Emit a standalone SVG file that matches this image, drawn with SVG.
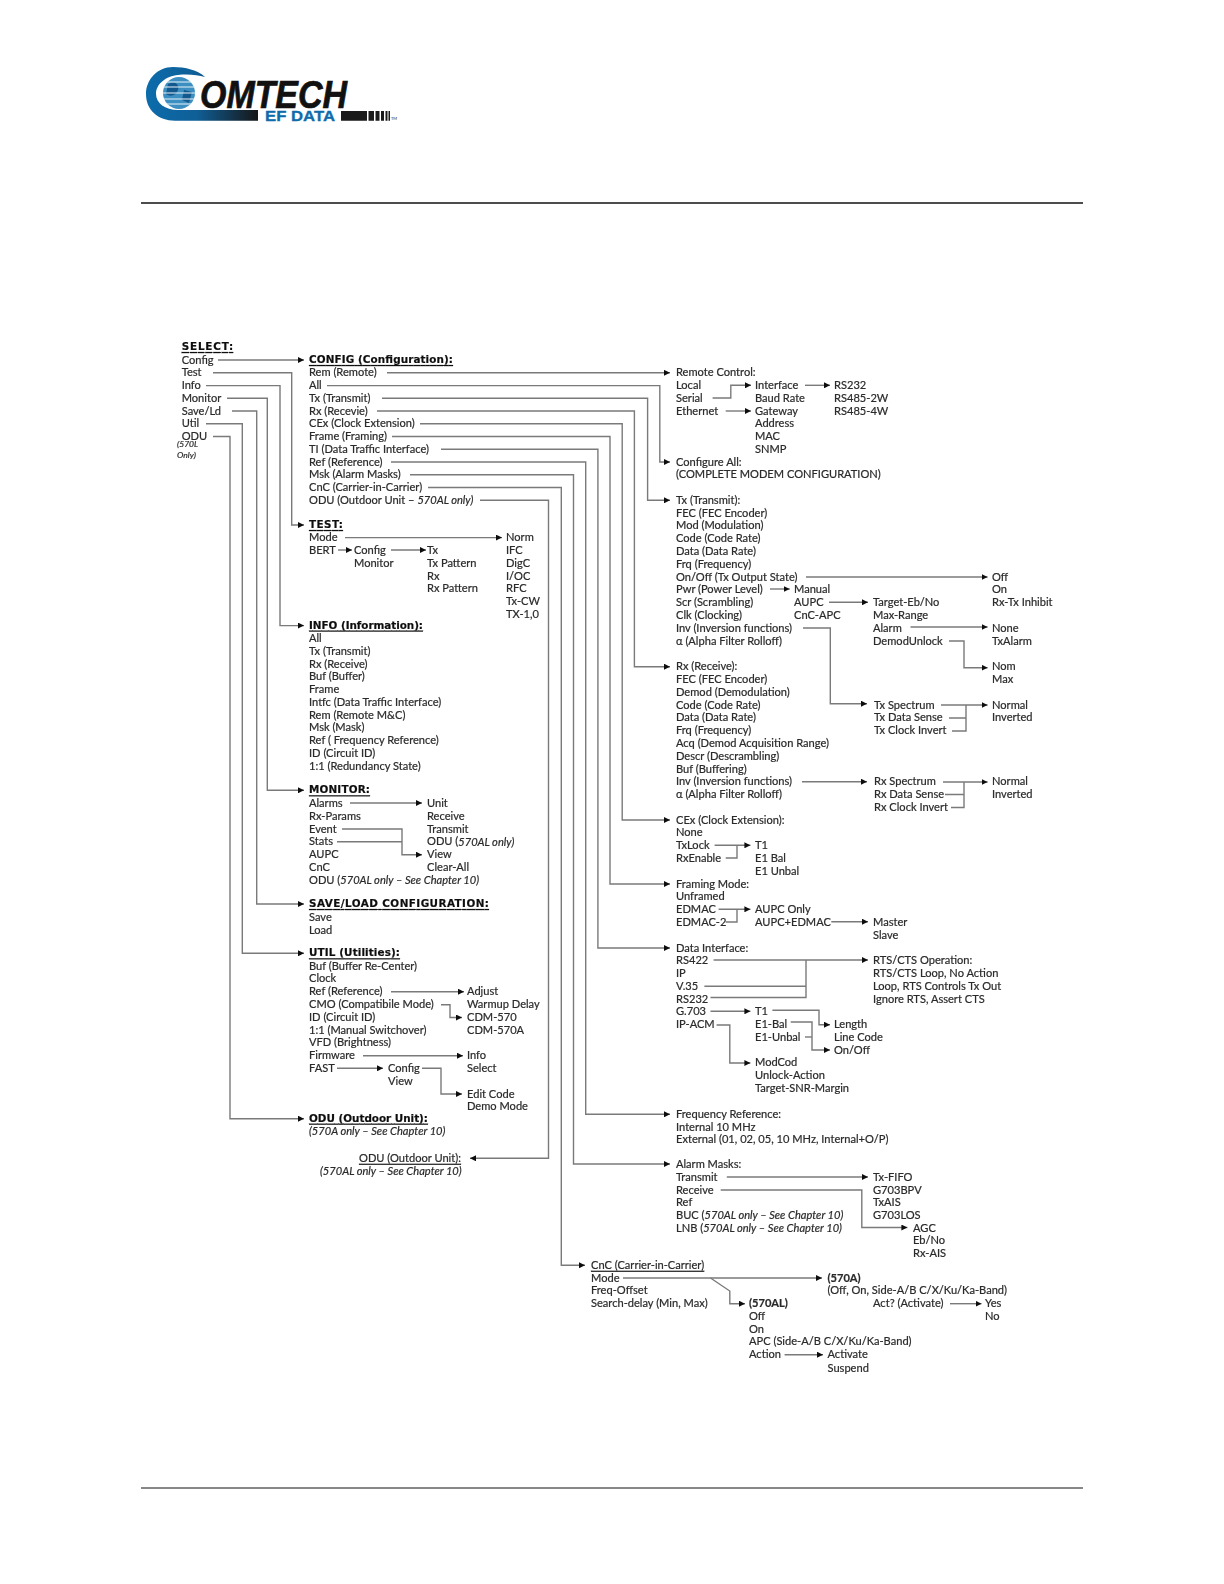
<svg xmlns="http://www.w3.org/2000/svg" width="1224" height="1584" viewBox="0 0 1224 1584">
<defs>
<style>
text{font-family:"Lato","Liberation Sans",sans-serif;font-size:11.1px;fill:#2a2a2a;stroke:#2a2a2a;stroke-width:.2;dominant-baseline:central}
.h{font-family:"DejaVu Sans",sans-serif;font-weight:700;font-size:10.4px;text-decoration:underline;fill:#111;stroke:#111}
.b{font-weight:700}
.i{font-style:italic}
.u{text-decoration:underline}
.c{fill:none;stroke:#7a7a7a;stroke-width:1.4}
.a{marker-end:url(#ah)}
</style>
<marker id="ah" markerUnits="userSpaceOnUse" markerWidth="7" markerHeight="6" refX="6" refY="3" orient="auto"><path d="M0 0L6 3L0 6Z" fill="#111"/></marker>
<filter id="soft" x="0" y="0" width="100%" height="100%"><feGaussianBlur stdDeviation="0.6"/></filter>
<linearGradient id="swoosh" gradientUnits="userSpaceOnUse" x1="146" y1="0" x2="258" y2="0"><stop offset="0" stop-color="#0c6cab"/><stop offset="0.45" stop-color="#0f5f97"/><stop offset="1" stop-color="#161616"/></linearGradient>
</defs>
<rect width="1224" height="1584" fill="#fff"/>
<g id="logo">
<path d="M205 77C198 70 185 67 173 67C157 67 146 80 146 94C146 110 158 120.7 175 120.7L258 120.7L258 110L178 110C165 110 156 103 156 94C156 84 166 76 178 75C188 74 198 75 205 77Z" fill="url(#swoosh)"/>
<circle cx="179" cy="93" r="16" fill="#3d8fc2"/>
<path d="M168 84C174 80 180 84 178 90C176 96 170 97 166 94ZM184 90L192 92L189 103L182 100Z" fill="#14598d"/>
<path d="M163 87H195M163 93H195M164 99H194M167 104H191M167 82H191" stroke="#e8f2f8" stroke-width="1"/>
<text x="200" y="94.5" textLength="147" lengthAdjust="spacingAndGlyphs" style="font-family:'Liberation Sans',sans-serif;font-size:38px;font-weight:700;font-style:italic;fill:#111;stroke:#111;stroke-width:.7">OMTECH</text>
<text x="265" y="115.5" textLength="70" lengthAdjust="spacingAndGlyphs" style="font-family:'Liberation Sans',sans-serif;font-size:14.5px;font-weight:700;fill:#0f6cab;stroke:#0f6cab;stroke-width:.3">EF DATA</text>
<path d="M341 111H367V120.7H341ZM368.5 111H374V120.7H368.5ZM375.5 111H379.5V120.7H375.5ZM381 111H384V120.7H381ZM385.5 111H387.5V120.7H385.5ZM388.5 111H390V120.7H388.5Z" fill="#1a1a1a"/>
<text x="391" y="118.5" style="font-size:4px;stroke:none">TM</text>
</g>
<g id="rules" stroke="#111">
<line x1="141" y1="203" x2="1083" y2="203" stroke-width="1.6"/>
<line x1="141" y1="1488" x2="1083" y2="1488" stroke-width="1"/>
</g>
<g filter="url(#soft)">
<g id="connectors">
<path class="c a" d="M218 360H304"/>
<path class="c a" d="M213 372.8H291.7V525H304"/>
<path class="c a" d="M206 385.6H280V625.6H304"/>
<path class="c a" d="M227 398.3H267.3V790.3H304"/>
<path class="c a" d="M232 411H256.7V904H304"/>
<path class="c a" d="M206 423.8H242.3V953.3H304"/>
<path class="c a" d="M213 436.5H230V1118.7H304"/>
<path class="c a" d="M387 372.8H670"/>
<path class="c a" d="M327 385.6H659.8V462H670"/>
<path class="c a" d="M382 398.3H647.6V500.3H670"/>
<path class="c a" d="M377 411H634.4V666.7H670"/>
<path class="c a" d="M420 423.8H622.2V820H670"/>
<path class="c a" d="M392 436.5H610V884H670"/>
<path class="c a" d="M441 449.3H597.9V948H670"/>
<path class="c a" d="M391 462H585.7V1114.3H670"/>
<path class="c a" d="M410 474.8H573.5V1164H670"/>
<path class="c a" d="M428 487.5H561.3V1265.3H585"/>
<path class="c a" d="M480 500.3H548.5V1158.3H470"/>
<path class="c a" d="M345 537.6H502"/>
<path class="c a" d="M338 550H352"/>
<path class="c a" d="M391 550H426"/>
<path class="c a" d="M350 803H422"/>
<path class="c a" d="M342 829H402V854.7H422"/>
<path class="c" d="M337 841.7H402"/>
<path class="c a" d="M391 991.7H464"/>
<path class="c a" d="M441 1004.7H450V1017.5H462"/>
<path class="c a" d="M363 1055.7H463"/>
<path class="c a" d="M337 1068.3H383"/>
<path class="c a" d="M422 1068.3H441V1094H462"/>
<path class="c a" d="M712.6 398H730.8V385.3H751"/>
<path class="c a" d="M725.7 411H751"/>
<path class="c a" d="M805 385.3H830"/>
<path class="c a" d="M806 577H987.6"/>
<path class="c a" d="M770 589H789.7"/>
<path class="c a" d="M829 602.3H868"/>
<path class="c a" d="M910.5 627H987.6"/>
<path class="c a" d="M949 641H964V667.7H987.6"/>
<path class="c a" d="M803 628H830.3V703.7H867"/>
<path class="c a" d="M941 705H987.6"/>
<path class="c" d="M949 718H966M952 731H966V705"/>
<path class="c a" d="M802 781.7H867"/>
<path class="c a" d="M943 782H987.6"/>
<path class="c" d="M945 794.5H964M951 807.5H964V782"/>
<path class="c a" d="M714.6 845.3H750.4"/>
<path class="c" d="M725.7 858H737V845.3"/>
<path class="c a" d="M718.6 909.3H750.4"/>
<path class="c" d="M725.7 922H737V909.3"/>
<path class="c a" d="M831.3 921.7H868"/>
<path class="c a" d="M713.6 960H868"/>
<path class="c" d="M704.4 986.3H806M710.5 997.5H806V960"/>
<path class="c a" d="M710.5 1011.3H750.4"/>
<path class="c a" d="M772.4 1010.3H819V1024.7H830"/>
<path class="c a" d="M790.7 1022H812V1050H830"/>
<path class="c" d="M805 1037H812"/>
<path class="c a" d="M716.6 1025H729.8V1063H750.4"/>
<path class="c a" d="M726.8 1177H868"/>
<path class="c a" d="M720.7 1190H861.8V1227.5H907.4"/>
<path class="c a" d="M623 1278H822"/>
<path class="c a" d="M710.5 1278L729.8 1291V1303.7H745"/>
<path class="c a" d="M950 1303.7H981.5"/>
<path class="c a" d="M784.6 1354.7H823"/>
</g>
<g transform="translate(0,-1)">
<g id="select">
<text class="h" x="181.7" y="347" textLength="51.5">SELECT:</text>
<text x="181.7" y="360">Config</text><text x="181.7" y="372.8">Test</text><text x="181.7" y="385.6">Info</text><text x="181.7" y="398.3">Monitor</text><text x="181.7" y="411">Save/Ld</text><text x="181.7" y="423.8">Util</text><text x="181.7" y="436.5">ODU</text>
<text class="i" x="177" y="445" style="font-size:8.5px">(570L</text><text class="i" x="177" y="455.5" style="font-size:8.5px">Only)</text>
</g>
<g id="config">
<text class="h" x="309" y="360" textLength="144">CONFIG (Configuration):</text>
<text x="309" y="372.8">Rem (Remote)</text><text x="309" y="385.6">All</text><text x="309" y="398.3">Tx (Transmit)</text><text x="309" y="411">Rx (Recevie)</text><text x="309" y="423.8">CEx (Clock Extension)</text><text x="309" y="436.5">Frame (Framing)</text><text x="309" y="449.3">TI (Data Traffic Interface)</text><text x="309" y="462">Ref (Reference)</text><text x="309" y="474.8">Msk (Alarm Masks)</text><text x="309" y="487.5">CnC (Carrier-in-Carrier)</text><text x="309" y="500.3">ODU (Outdoor Unit – <tspan class="i">570AL only)</tspan></text>
</g>
<g id="test">
<text class="h" x="309" y="525" textLength="34">TEST:</text>
<text x="309" y="537.6">Mode</text><text x="309" y="550.4">BERT</text>
<text x="354" y="550.4">Config</text><text x="354" y="563">Monitor</text>
<text x="427" y="550.4">Tx</text><text x="427" y="563">Tx Pattern</text><text x="427" y="576">Rx</text><text x="427" y="588.6">Rx Pattern</text>
<text x="506" y="537.6">Norm</text><text x="506" y="550.4">IFC</text><text x="506" y="563">DigC</text><text x="506" y="576">I/OC</text><text x="506" y="588.6">RFC</text><text x="506" y="601.3">Tx-CW</text><text x="506" y="614">TX-1,0</text>
</g>
<g id="info">
<text class="h" x="309" y="625.6" textLength="114">INFO (Information):</text>
<text x="309" y="638.3">All</text><text x="309" y="651">Tx (Transmit)</text><text x="309" y="664">Rx (Receive)</text><text x="309" y="676.7">Buf (Buffer)</text><text x="309" y="689.3">Frame</text><text x="309" y="702">Intfc (Data Traffic Interface)</text><text x="309" y="715">Rem (Remote M&amp;C)</text><text x="309" y="727.7">Msk (Mask)</text><text x="309" y="740.3">Ref ( Frequency Reference)</text><text x="309" y="753.3">ID (Circuit ID)</text><text x="309" y="766">1:1 (Redundancy State)</text>
</g>
<g id="monitor">
<text class="h" x="309" y="790.3" textLength="61">MONITOR:</text>
<text x="309" y="803.3">Alarms</text><text x="309" y="816">Rx-Params</text><text x="309" y="829">Event</text><text x="309" y="841.7">Stats</text><text x="309" y="854.7">AUPC</text><text x="309" y="867.3">CnC</text><text x="309" y="880">ODU (<tspan class="i">570AL only – See Chapter 10)</tspan></text>
<text x="427" y="803.3">Unit</text><text x="427" y="816">Receive</text><text x="427" y="829">Transmit</text><text x="427" y="841.7">ODU (<tspan class="i">570AL only)</tspan></text><text x="427" y="854.7">View</text><text x="427" y="867.3">Clear-All</text>
</g>
<g id="saveload">
<text class="h" x="309" y="904" textLength="180">SAVE/LOAD CONFIGURATION:</text>
<text x="309" y="917.3">Save</text><text x="309" y="930">Load</text>
</g>
<g id="util">
<text class="h" x="309" y="953.3" textLength="91">UTIL (Utilities):</text>
<text x="309" y="966">Buf (Buffer Re-Center)</text><text x="309" y="978.7">Clock</text><text x="309" y="991.7">Ref (Reference)</text><text x="309" y="1004.7">CMO (Compatibile Mode)</text><text x="309" y="1017">ID (Circuit ID)</text><text x="309" y="1030">1:1 (Manual Switchover)</text><text x="309" y="1042.7">VFD (Brightness)</text><text x="309" y="1055.7">Firmware</text><text x="309" y="1068.3">FAST</text>
<text x="388" y="1068.3">Config</text><text x="388" y="1081.3">View</text>
<text x="467" y="991.7">Adjust</text><text x="467" y="1004.7">Warmup Delay</text><text x="467" y="1017.5">CDM-570</text><text x="467" y="1030">CDM-570A</text><text x="467" y="1055.7">Info</text><text x="467" y="1068.3">Select</text><text x="467" y="1094">Edit Code</text><text x="467" y="1106.7">Demo Mode</text>
</g>
<g id="odu-a">
<text class="h" x="309" y="1118.7" textLength="119">ODU (Outdoor Unit):</text>
<text class="i" x="309" y="1131.3">(570A only – See Chapter 10)</text>
</g>
<g id="odu-al">
<text class="u" x="359" y="1158.3">ODU (Outdoor Unit):</text>
<text class="i" x="320" y="1171.7">(570AL only – See Chapter 10)</text>
</g>
<g id="remote">
<text x="676" y="372.3">Remote Control:</text><text x="676" y="385.3">Local</text><text x="676" y="398">Serial</text><text x="676" y="411">Ethernet</text>
<text x="755" y="385.3">Interface</text><text x="755" y="398">Baud Rate</text><text x="755" y="411">Gateway</text><text x="755" y="423.5">Address</text><text x="755" y="436.5">MAC</text><text x="755" y="449">SNMP</text>
<text x="834" y="385.3">RS232</text><text x="834" y="398">RS485-2W</text><text x="834" y="411">RS485-4W</text>
</g>
<g id="configure-all">
<text x="676" y="462">Configure All:</text><text x="676" y="474.7">(COMPLETE MODEM CONFIGURATION)</text>
</g>
<g id="tx">
<text x="676" y="500.3">Tx (Transmit):</text><text x="676" y="513">FEC (FEC Encoder)</text><text x="676" y="525.7">Mod (Modulation)</text><text x="676" y="538.7">Code (Code Rate)</text><text x="676" y="551.3">Data (Data Rate)</text><text x="676" y="564">Frq (Frequency)</text><text x="676" y="577">On/Off (Tx Output State)</text><text x="676" y="589.7">Pwr (Power Level)</text><text x="676" y="602.3">Scr (Scrambling)</text><text x="676" y="615.3">Clk (Clocking)</text><text x="676" y="628">Inv (Inversion functions)</text><text x="676" y="641">α (Alpha Filter Rolloff)</text>
<text x="794" y="589.7">Manual</text><text x="794" y="602.3">AUPC</text><text x="794" y="615.3">CnC-APC</text>
<text x="873" y="602.3">Target-Eb/No</text><text x="873" y="615.3">Max-Range</text><text x="873" y="628">Alarm</text><text x="873" y="641">DemodUnlock</text>
<text x="992" y="577">Off</text><text x="992" y="589.7">On</text><text x="992" y="602.3">Rx-Tx Inhibit</text><text x="992" y="628">None</text><text x="992" y="641">TxAlarm</text><text x="992" y="666.7">Nom</text><text x="992" y="679.3">Max</text>
<text x="874" y="705">Tx Spectrum</text><text x="874" y="717.7">Tx Data Sense</text><text x="874" y="730.7">Tx Clock Invert</text>
<text x="992" y="705">Normal</text><text x="992" y="717.7">Inverted</text>
</g>
<g id="rx">
<text x="676" y="666.7">Rx (Receive):</text><text x="676" y="679.3">FEC (FEC Encoder)</text><text x="676" y="692">Demod (Demodulation)</text><text x="676" y="705">Code (Code Rate)</text><text x="676" y="717.7">Data (Data Rate)</text><text x="676" y="730.7">Frq (Frequency)</text><text x="676" y="743.3">Acq (Demod Acquisition Range)</text><text x="676" y="756">Descr (Descrambling)</text><text x="676" y="769">Buf (Buffering)</text><text x="676" y="781.7">Inv (Inversion functions)</text><text x="676" y="794.3">α (Alpha Filter Rolloff)</text>
<text x="874" y="781.7">Rx Spectrum</text><text x="874" y="794.3">Rx Data Sense</text><text x="874" y="807.3">Rx Clock Invert</text>
<text x="992" y="781.7">Normal</text><text x="992" y="794.3">Inverted</text>
</g>
<g id="cex">
<text x="676" y="820">CEx (Clock Extension):</text><text x="676" y="832.7">None</text><text x="676" y="845.3">TxLock</text><text x="676" y="858.3">RxEnable</text>
<text x="755" y="845.3">T1</text><text x="755" y="858.3">E1 Bal</text><text x="755" y="871">E1 Unbal</text>
</g>
<g id="framing">
<text x="676" y="884">Framing Mode:</text><text x="676" y="896.7">Unframed</text><text x="676" y="909.3">EDMAC</text><text x="676" y="922.3">EDMAC-2</text>
<text x="755" y="909.3">AUPC Only</text><text x="755" y="922.3">AUPC+EDMAC</text>
<text x="873" y="922.3">Master</text><text x="873" y="935">Slave</text>
</g>
<g id="data-interface">
<text x="676" y="948">Data Interface:</text><text x="676" y="960.7">RS422</text><text x="676" y="973.3">IP</text><text x="676" y="986.3">V.35</text><text x="676" y="999">RS232</text><text x="676" y="1011.7">G.703</text><text x="676" y="1024.7">IP-ACM</text>
<text x="873" y="960.7">RTS/CTS Operation:</text><text x="873" y="973.3">RTS/CTS Loop, No Action</text><text x="873" y="986.3">Loop, RTS Controls Tx Out</text><text x="873" y="999">Ignore RTS, Assert CTS</text>
<text x="755" y="1011.7">T1</text><text x="755" y="1024.7">E1-Bal</text><text x="755" y="1037.3">E1-Unbal</text>
<text x="834" y="1024.7">Length</text><text x="834" y="1037.3">Line Code</text><text x="834" y="1050">On/Off</text>
<text x="755" y="1062.7">ModCod</text><text x="755" y="1075.7">Unlock-Action</text><text x="755" y="1088.3">Target-SNR-Margin</text>
</g>
<g id="frequency-reference">
<text x="676" y="1114.3">Frequency Reference:</text><text x="676" y="1127">Internal 10 MHz</text><text x="676" y="1139.7">External (01, 02, 05, 10 MHz, Internal+O/P)</text>
</g>
<g id="alarm-masks">
<text x="676" y="1164">Alarm Masks:</text><text x="676" y="1177">Transmit</text><text x="676" y="1190">Receive</text><text x="676" y="1202.3">Ref</text><text x="676" y="1215.3">BUC (<tspan class="i">570AL only – See Chapter 10)</tspan></text><text x="676" y="1228">LNB (<tspan class="i">570AL only – See Chapter 10)</tspan></text>
<text x="873" y="1177">Tx-FIFO</text><text x="873" y="1190">G703BPV</text><text x="873" y="1202.3">TxAIS</text><text x="873" y="1215.3">G703LOS</text>
<text x="913" y="1228">AGC</text><text x="913" y="1240.7">Eb/No</text><text x="913" y="1253.3">Rx-AIS</text>
</g>
<g id="cnc">
<text class="u" x="591" y="1265.3">CnC (Carrier-in-Carrier)</text><text x="591" y="1278">Mode</text><text x="591" y="1290.7">Freq-Offset</text><text x="591" y="1303.7">Search-delay (Min, Max)</text>
<text class="b" x="827.5" y="1278">(570A)</text><text x="827.5" y="1290.7">(Off, On, Side-A/B C/X/Ku/Ka-Band)</text><text x="873" y="1303.7">Act? (Activate)</text><text x="985" y="1303.7">Yes</text><text x="985" y="1316">No</text>
<text class="b" x="749" y="1303.7">(570AL)</text><text x="749" y="1316">Off</text><text x="749" y="1329">On</text><text x="749" y="1341.7">APC (Side-A/B C/X/Ku/Ka-Band)</text><text x="749" y="1354.7">Action</text>
<text x="827.5" y="1354.7">Activate</text><text x="827.5" y="1368">Suspend</text>
</g>
</g>
</g>
</svg>
